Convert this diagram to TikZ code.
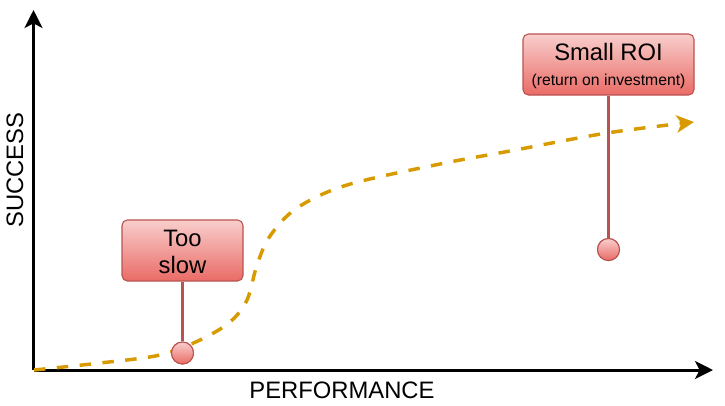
\documentclass[tikz,border=0pt]{standalone}
\usepackage{fontspec}
\setmainfont{Liberation Sans}
\usetikzlibrary{arrows.meta}
\definecolor{redfill1}{HTML}{F8CECC}
\definecolor{redfill2}{HTML}{EA6B66}
\definecolor{redline}{HTML}{B85450}
\definecolor{curveorange}{HTML}{D79B00}
\tikzset{
  axisline/.style={line width=2.25pt, -{Stealth[length=13.5pt,width=13.5pt,inset=3.5pt]}},
  curveline/.style={line width=2.6pt, curveorange, dash pattern=on 8.6pt off 8.6pt,
     -{Stealth[length=13pt,width=13pt,inset=3.5pt]}},
  callout/.style={draw=redline, line width=0.8pt, rounded corners=4pt, top color=redfill1, bottom color=redfill2,
     inner sep=0pt},
  stem/.style={draw=redline, line width=2.4pt},
  pin/.style={circle, draw=redline, line width=0.8pt, top color=redfill1, bottom color=redfill2,
     minimum size=16.5pt, inner sep=0pt},
  bigtext/.style={font=\fontsize{17.85}{20.3}\selectfont, inner sep=0pt},
  smalltext/.style={font=\fontsize{11.8}{14}\selectfont, inner sep=0pt},
}
\begin{document}
\begin{tikzpicture}[x=0.75pt,y=-0.75pt]
\useasboundingbox (0,0) rectangle (725,405);
% axes
\coordinate (O) at (33.5,370);
\coordinate (ytop) at (33.5,10);
\coordinate (xend) at (713,370);
\draw[axisline] (O) -- (ytop);
\draw[axisline] (O) -- (xend);
\node[bigtext, rotate=90] (ylab) at (15,170) {SUCCESS};
\node[bigtext] (xlab) at (342,390) {PERFORMANCE};
% curve
\coordinate (cend) at (694,122);
\draw[curveline] plot[smooth, tension=0.55] coordinates {
  (34,370) (100,363) (160,355) (200,340) (230,322) (247,300) (257,265)
  (270,236) (297,208) (347,185) (440,164) (510,151) (607,133) (694,122)};
% Too slow
\node[callout, minimum width=90.75pt, minimum height=45.75pt] (slow) at (182.5,250.5) {};
\node[bigtext] (slow1) at (182.5,238.5) {Too};
\node[bigtext] (slow2) at (182.5,264.5) {slow};
\node[pin] (pin1) at (182.5,353) {};
\draw[stem] (slow.south) -- (pin1.north);
\node[pin] at (pin1.center) {};
% Small ROI
\node[callout, minimum width=128.25pt, minimum height=45.75pt] (roi) at (608.5,64.5) {};
\node[bigtext] (roi1) at (608.5,52) {Small ROI};
\node[smalltext] (roi2) at (608.5,81.5) {(return on investment)};
\node[pin] (pin2) at (608.5,249.5) {};
\draw[stem] (roi.south) -- (pin2.north);
\node[pin] at (pin2.center) {};
\end{tikzpicture}
\end{document}
